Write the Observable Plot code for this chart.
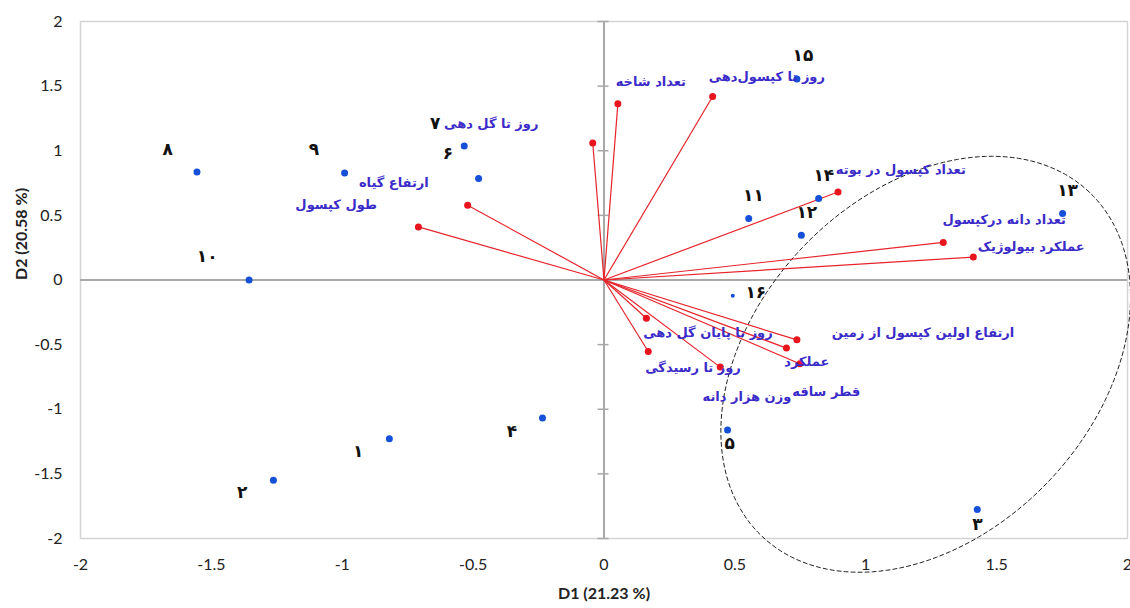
<!DOCTYPE html>
<html><head><meta charset="utf-8">
<script src="https://cdn.jsdelivr.net/npm/d3@7"></script>
<script src="https://cdn.jsdelivr.net/npm/@observablehq/plot@0.6"></script>
<style>body{margin:0;background:#fff} #chart{width:1130px;height:608px}</style>
</head><body><div id="chart"></div>
<script>
// Observations (genotypes)
const obsNames = ["۱","۲","۳","۴","۵","۶","۷","۸","۹","۱۰","۱۱","۱۲","۱۳","۱۴","۱۵","۱۶"];
const obsD1 = [-0.82,-1.263,1.426,-0.235,0.472,-0.479,-0.534,-1.555,-0.991,-1.356,0.553,0.754,1.752,0.82,0.737,0.492];
const obsD2 = [-1.229,-1.549,-1.775,-1.067,-1.16,0.785,1.036,0.836,0.828,0.0,0.476,0.347,0.515,0.63,1.556,-0.121];
const obsLabelD1 = [-0.939,-1.382,1.427,-0.352,0.48,-0.596,-0.645,-1.667,-1.108,-1.516,0.571,0.775,1.771,0.84,0.76,0.58];
const obsLabelD2 = [-1.327,-1.644,-1.89,-1.17,-1.265,0.978,1.211,1.011,1.011,0.18,0.656,0.525,0.694,0.81,1.736,-0.1];

// Variables (traits)
const varNames = ["تعداد شاخه","روز تا کپسول‌دهی","روز تا گل دهی","ارتفاع گیاه","طول کپسول","تعداد کپسول در بوته","تعداد دانه درکپسول","عملکرد بیولوژیک","روز تا پایان گل دهی","روز تا رسیدگی","وزن هزار دانه","ارتفاع اولین کپسول از زمین","عملکرد","قطر ساقه"];
const varD1 = [0.053,0.415,-0.043,-0.521,-0.709,0.894,1.296,1.411,0.162,0.169,0.444,0.737,0.697,0.748];
const varD2 = [1.363,1.42,1.06,0.579,0.411,0.681,0.291,0.177,-0.296,-0.553,-0.674,-0.463,-0.527,-0.648];
const varLabelD1 = [0.179,0.622,-0.431,-0.803,-1.023,1.134,1.529,1.632,0.397,0.34,0.546,1.219,0.775,0.849];
const varLabelD2 = [1.535,1.574,1.211,0.751,0.579,0.849,0.463,0.255,-0.409,-0.679,-0.903,-0.409,-0.633,-0.864];

// Dashed grouping ellipse: centre and two semi-axis vectors, in D1/D2 units
const ellipseCenter = [1.229, -0.652];
const ellipseAxisU = [0.625, 1.332];
const ellipseAxisV = [-0.471, 0.903];

const axisTicks = [-2,-1.5,-1,-0.5,0,0.5,1,1.5,2];
const titleX = "D1 (21.23 %)";
const titleY = "D2 (20.58 %)";

const obs = obsNames.map((n,i)=>({n, x:obsD1[i], y:obsD2[i], lx:obsLabelD1[i], ly:obsLabelD2[i]}));
const vars = varNames.map((n,i)=>({n, x:varD1[i], y:varD2[i], lx:varLabelD1[i], ly:varLabelD2[i]}));
const ell = d3.range(0, 181).map(k => {
  const t = k / 180 * 2 * Math.PI;
  return {x: ellipseCenter[0] + Math.cos(t)*ellipseAxisU[0] + Math.sin(t)*ellipseAxisV[0],
          y: ellipseCenter[1] + Math.cos(t)*ellipseAxisU[1] + Math.sin(t)*ellipseAxisV[1]};
});

const persian = "DejaVu Sans";
const chart = Plot.plot({
  width: 1130, height: 608,
  marginLeft: 80, marginRight: 3, marginTop: 21, marginBottom: 70,
  style: {fontFamily: "Lato", fontSize: "16px", color: "#222", background: "#fff"},
  x: {domain: [-2, 2], ticks: axisTicks, tickFormat: d => String(d)},
  y: {domain: [-2, 2], ticks: axisTicks, tickFormat: d => String(d)},
  marks: [
    Plot.frame({stroke: "#d4d4d4", strokeWidth: 1.5}),
    Plot.axisX({ticks: axisTicks, tickFormat: d => String(d), tickSize: 0, tickPadding: 20, label: null, fontSize: 16}),
    Plot.axisY({ticks: axisTicks, tickFormat: d => String(d), tickSize: 0, tickPadding: 18, label: null, fontSize: 16}),
    Plot.ruleX([0], {stroke: "#a8a8a8", strokeWidth: 2}),
    Plot.ruleY([0], {stroke: "#a8a8a8", strokeWidth: 2}),
    Plot.ruleY(axisTicks, {x1: 0, x2: 0, insetLeft: -6, insetRight: -5, stroke: "#a8a8a8", strokeWidth: 1.5}),
    Plot.line(ell, {x: "x", y: "y", stroke: "#222", strokeWidth: 1, strokeDasharray: "4,3"}),
    Plot.link(vars, {x1: 0, y1: 0, x2: "x", y2: "y", stroke: "#e5242b", strokeWidth: 1.2}),
    Plot.dot(vars, {x: "x", y: "y", r: 3.5, fill: "#e8141e"}),
    Plot.dot(obs.filter(d => d.n !== "۱۶"), {x: "x", y: "y", r: 3.5, fill: "#1650d8"}),
    Plot.dot(obs.filter(d => d.n === "۱۶"), {x: "x", y: "y", r: 2, fill: "#1650d8"}),
    Plot.text(vars, {x: "lx", y: "ly", text: "n", fill: "#3b2bc8", fontFamily: persian, fontWeight: "bold", fontSize: 13, textAnchor: "middle"}),
    Plot.text(obs, {x: "lx", y: "ly", text: "n", fill: "#111", fontFamily: persian, fontWeight: "bold", fontSize: 17, textAnchor: "middle"}),
    Plot.text([titleX], {frameAnchor: "bottom", dy: 60, text: d => d, fontWeight: "bold", fontSize: 16, fill: "#222"}),
    Plot.text([titleY], {frameAnchor: "left", dx: -59, rotate: -90, text: d => d, fontWeight: "bold", fontSize: 16, fill: "#222"})
  ]
});
document.getElementById("chart").append(chart);
</script>
</body></html>
